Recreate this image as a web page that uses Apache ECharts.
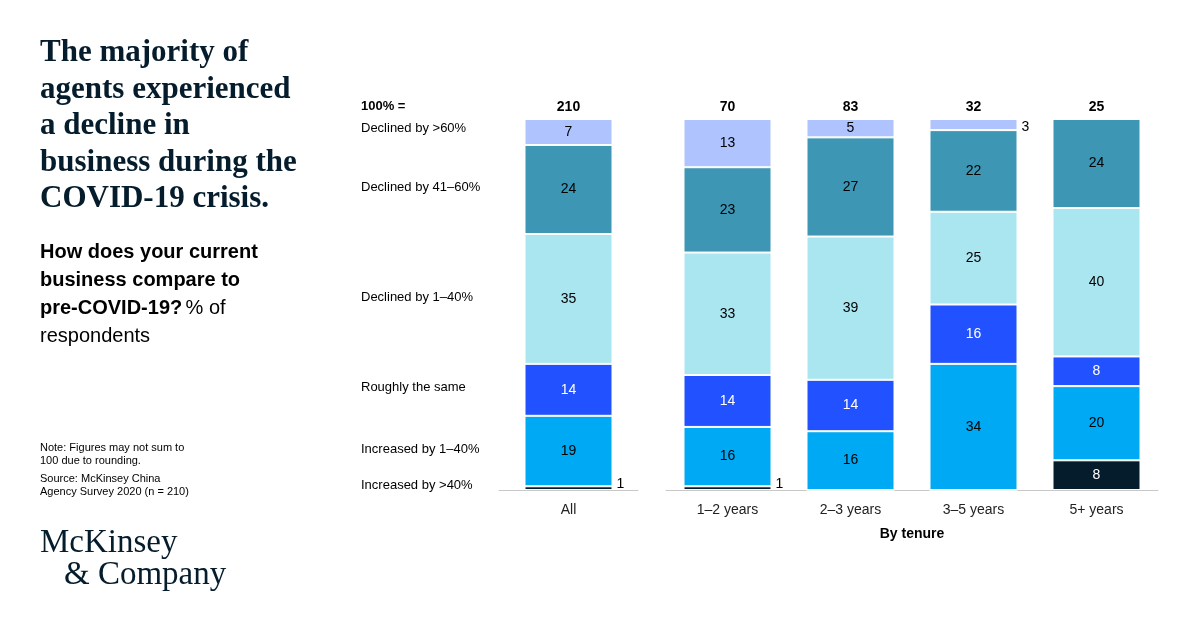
<!DOCTYPE html>
<html><head><meta charset="utf-8">
<script src="https://cdn.jsdelivr.net/npm/echarts@6/dist/echarts.min.js"></script>
<style>html,body{margin:0;background:#fff}#c{width:1200px;height:627px}</style>
</head><body><div id="c"></div>
<script>
const groups = ['All'];
const tenures = ['1–2 years', '2–3 years', '3–5 years', '5+ years'];
const totalsAll = ['210'];
const totalsTenure = ['70', '83', '32', '25'];
const segments = ['Increased by >40%', 'Increased by 1–40%', 'Roughly the same', 'Declined by 1–40%', 'Declined by 41–60%', 'Declined by >60%'];
const colors = ['#051c2c', '#00a9f4', '#2251ff', '#aae6f0', '#3c96b4', '#afc3ff'];
const textColors = ['#fff', '#000', '#fff', '#000', '#000', '#000'];
// values per segment: [All, 1–2, 2–3, 3–5, 5+]
const increasedOver40 = [1, 1, 0, 0, 8];
const increased1to40 = [19, 16, 16, 34, 20];
const roughlySame = [14, 14, 14, 16, 8];
const declined1to40 = [35, 33, 39, 25, 40];
const declined41to60 = [24, 23, 27, 22, 24];
const declinedOver60 = [7, 13, 5, 3, 0];
const values = [increasedOver40, increased1to40, roughlySame, declined1to40, declined41to60, declinedOver60];

const sums = values[0].map((_, i) => values.reduce((s, a) => s + a[i], 0));
const font = 'Liberation Sans, Arial, sans-serif';

const series = [];
values.forEach((arr, k) => {
  [[0, [0]], [1, [1, 2, 3, 4]]].forEach(([gi, idx]) => {
    series.push({
      type: 'bar', stack: 's' + gi, xAxisIndex: gi * 2, yAxisIndex: gi,
      barWidth: 88, name: segments[k],
      itemStyle: {color: colors[k], borderColor: '#fff', borderWidth: 1},
      data: idx.map(i => ({
        value: arr[i] / sums[i] * 100, raw: arr[i],
        label: arr[i] < 4 ? {position: 'right', color: '#000', distance: 4, offset: [0, k === 0 ? -4 : 3]} : {}
      })),
      label: {
        show: true, position: 'inside', color: textColors[k], fontFamily: font, fontSize: 14,
        formatter: p => p.data.raw > 0 ? p.data.raw : ''
      }
    });
  });
});

const rowLabels = [
  ['100% =', 108, true], ['Declined by >60%', 130], ['Declined by 41–60%', 189],
  ['Declined by 1–40%', 299], ['Roughly the same', 389], ['Increased by 1–40%', 451], ['Increased by >40%', 487]
];

const chart = echarts.init(document.getElementById('c'));
chart.setOption({
  animation: false,
  grid: [
    {left: 499, width: 139, top: 119, bottom: 137},
    {left: 666, width: 492, top: 119, bottom: 137}
  ],
  xAxis: [
    {gridIndex: 0, type: 'category', data: groups, axisLine: {lineStyle: {color: '#c8c8c8'}}, axisTick: {show: false},
      axisLabel: {color: '#222', fontSize: 14, fontFamily: font, margin: 13}},
    {gridIndex: 0, type: 'category', position: 'top', data: totalsAll, axisLine: {show: false}, axisTick: {show: false},
      axisLabel: {color: '#000', fontSize: 14, fontWeight: 'bold', fontFamily: font, margin: 5}},
    {gridIndex: 1, type: 'category', data: tenures, axisLine: {lineStyle: {color: '#c8c8c8'}}, axisTick: {show: false},
      axisLabel: {color: '#222', fontSize: 14, fontFamily: font, margin: 13},
      name: 'By tenure', nameLocation: 'middle', nameGap: 37,
      nameTextStyle: {color: '#000', fontSize: 14, fontWeight: 'bold', fontFamily: font}},
    {gridIndex: 1, type: 'category', position: 'top', data: totalsTenure, axisLine: {show: false}, axisTick: {show: false},
      axisLabel: {color: '#000', fontSize: 14, fontWeight: 'bold', fontFamily: font, margin: 5}}
  ],
  yAxis: [
    {gridIndex: 0, type: 'value', min: 0, max: 100, show: false},
    {gridIndex: 1, type: 'value', min: 0, max: 100, show: false}
  ],
  series: series,
  graphic: [
    {type: 'text', left: 40, top: 35, style: {
      text: 'The majority of\nagents experienced\na decline in\nbusiness during the\nCOVID-19 crisis.',
      font: 'bold 31px "Liberation Serif", serif', lineHeight: 36.5, fill: '#051c2c'}},
    {type: 'text', left: 40, top: 242, style: {
      text: '{b|How does your current}\n{b|business compare to}\n{b|pre-COVID-19?} {n|% of}\n{n|respondents}',
      rich: {
        b: {font: 'bold 20px "Liberation Sans", Arial, sans-serif', lineHeight: 28, fill: '#000'},
        n: {font: '20px "Liberation Sans", Arial, sans-serif', lineHeight: 28, fill: '#000'}
      }}},
    {type: 'text', left: 40, top: 441, style: {
      text: 'Note: Figures may not sum to\n100 due to rounding.', font: '11px "Liberation Sans", Arial', lineHeight: 13, fill: '#000'}},
    {type: 'text', left: 40, top: 472, style: {
      text: 'Source: McKinsey China\nAgency Survey 2020 (n = 210)', font: '11px "Liberation Sans", Arial', lineHeight: 13, fill: '#000'}},
    {type: 'text', left: 40, top: 527, style: {
      text: 'McKinsey', font: '33px "Liberation Serif", serif', fill: '#051c2c'}},
    {type: 'text', left: 64, top: 559, style: {
      text: '& Company', font: '33px "Liberation Serif", serif', fill: '#051c2c'}}
  ].concat(rowLabels.map(([t, y, b]) => ({
    type: 'text', left: 361, top: y - 8, style: {
      text: t, font: (b ? 'bold ' : '') + '13px "Liberation Sans", Arial', fill: '#000'}
  })))
});
</script></body></html>
